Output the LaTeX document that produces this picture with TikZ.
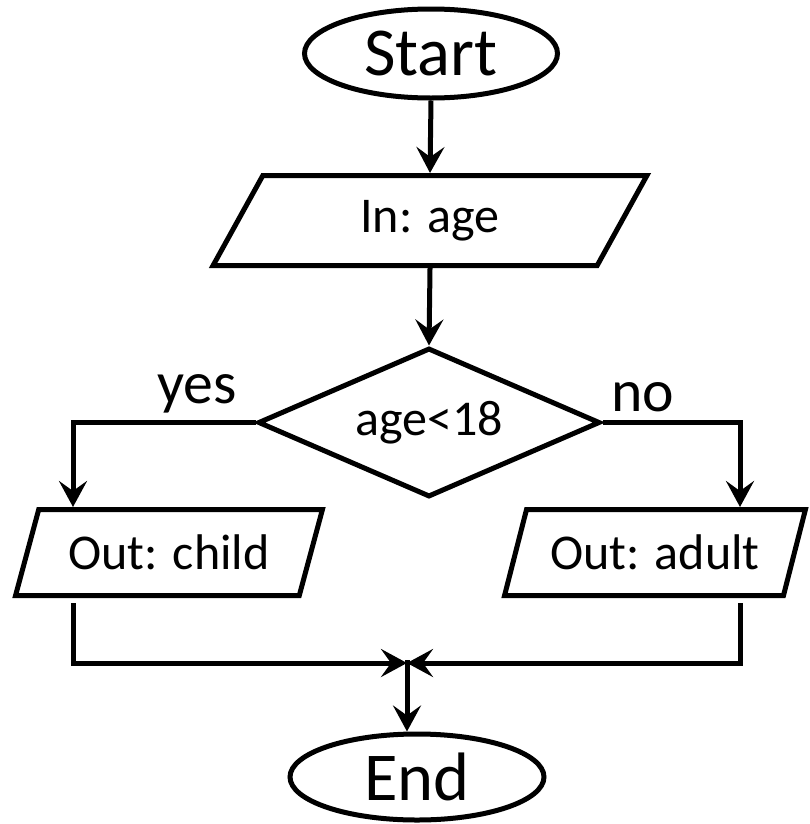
\documentclass[tikz,border=0pt]{standalone}
\usepackage{fontspec}
\setmainfont{Carlito}
\usetikzlibrary{shapes.geometric, arrows.meta, positioning}

\newcommand{\boxfont}{\fontsize{28.5}{34}\selectfont}
\newcommand{\termfont}{\fontsize{39}{46}\selectfont}
\newcommand{\labfont}{\fontsize{34}{40}\selectfont}

\begin{document}
\begin{tikzpicture}[line width=0.1cm,
    arr/.style={-{Stealth[length=0.52cm, width=0.56cm, inset=0.2cm]}},
    term/.style={draw, ellipse, inner sep=0pt, font=\termfont},
    io/.style={draw, trapezium, trapezium left angle=63, trapezium right angle=117,
        trapezium stretches=true, inner sep=0pt, font=\boxfont},
    test/.style={draw, diamond, aspect=2.3, inner sep=0pt, font=\boxfont}]

\useasboundingbox (0,0) rectangle (16.18,-16.48);

% Start block
\node[term,
    minimum width=5.06cm,
    minimum height=1.78cm] (start) at (8.62,-1.07) {Start};

% Input
\node[io,
    minimum width=8.68cm,
    minimum height=1.8cm] (in) at (8.6,-4.41) {In: age};

% Decision
\node[test,
    minimum width=6.84cm,
    minimum height=2.98cm] (dec) at (8.58,-8.45) {age<18};

% Outputs
\node[io,
    minimum width=6.14cm,
    minimum height=1.72cm] (child) at (3.38,-11.05) {Out: child};

\node[io,
    minimum width=6.02cm,
    minimum height=1.72cm] (adult) at (13.1,-11.05) {Out: adult};

% End block
\node[term,
    minimum width=5.08cm,
    minimum height=1.72cm] (end) at (8.34,-15.54) {End};

% Branch labels
\node[font=\labfont] (yes) at (3.94,-7.88) {yes};
\node[font=\labfont] (no) at (12.86,-7.94) {no};

\coordinate (yesturn) at (1.46,-8.45);
\coordinate (noturn) at (14.8,-8.45);
\coordinate (join) at (8.14,-13.26);

% Arrows
\draw [arr] (start.south) -- (in.north);
\draw [arr] (in.south) -- (dec.north);
\draw [arr] (dec.west) -- (yesturn) -- (yesturn |- child.north);
\draw [arr] (dec.east) -- (noturn) -- (noturn |- adult.north);
\draw [arr] ([yshift=-0.1cm]child.south -| yesturn) |- (join);
\draw [arr] ([yshift=-0.1cm]adult.south -| noturn) |- (join);
\draw [arr] ([yshift=0.06cm]join) -- (join |- end.north);

\end{tikzpicture}
\end{document}
